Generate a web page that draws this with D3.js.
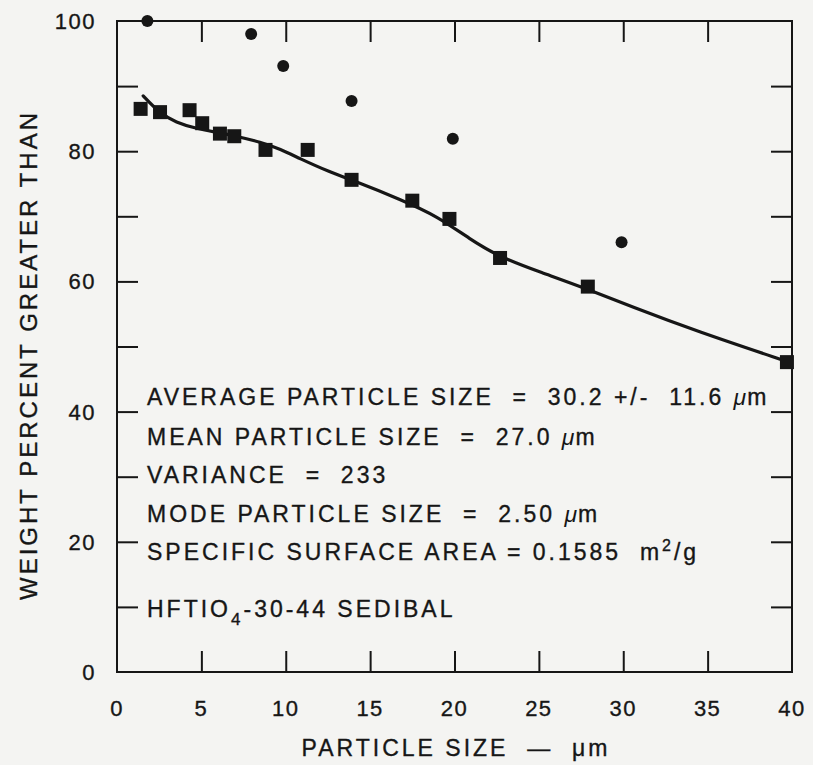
<!DOCTYPE html>
<html>
<head>
<meta charset="utf-8">
<script src="https://cdn.jsdelivr.net/npm/d3@7"></script>
<style>
  html, body { margin: 0; padding: 0; background: #f4f4f2; }
  svg { display: block; }
  text { font-family: "Liberation Sans", Arial, Helvetica, sans-serif; fill: #161616; stroke: #161616; stroke-width: 0.35px; }
</style>
</head>
<body>
<svg id="chart" width="813" height="765"></svg>
<script>
// ---- data ----
const squareX = [1.4, 2.55, 4.3, 5.05, 6.1, 6.95, 8.8, 11.3, 13.9, 17.5, 19.7, 22.7, 27.9, 39.7];
const squareY = [86.5, 86.0, 86.3, 84.3, 82.7, 82.3, 80.2, 80.2, 75.6, 72.4, 69.6, 63.6, 59.2, 47.6];
const circleX = [1.8, 7.95, 9.85, 13.9, 19.9, 29.9];
const circleY = [100.0, 98.0, 93.1, 87.7, 81.9, 66.0];
const curveX = [1.55, 2.5, 3.5, 4.7, 5.7, 7.1, 8.5, 9.7, 10.8, 12.6, 13.9, 16.8, 19.0, 20.9, 22.7, 25.1, 27.9, 30.4, 34.4, 39.7];
const curveY = [88.5, 85.9, 84.4, 83.5, 83.0, 82.3, 81.4, 80.3, 78.9, 76.8, 75.6, 72.6, 70.0, 66.5, 63.7, 61.4, 58.8, 56.2, 52.3, 47.7];
const xTickLabels = [0, 5, 10, 15, 20, 25, 30, 35, 40];
const yTickLabels = [0, 20, 40, 60, 80, 100];
const xInnerTicks = [5, 10, 15, 20, 25, 30, 35];
const yInnerTicks = [10, 20, 30, 40, 50, 60, 70, 80, 90];
const xTitle = "PARTICLE SIZE  —  μm";
const yTitle = "WEIGHT PERCENT GREATER THAN";
const statLines = [
  [{t: "AVERAGE PARTICLE SIZE  =  30.2 +/-  11.6 "}, {t: "μ", it: true}, {t: "m"}],
  [{t: "MEAN PARTICLE SIZE  =  27.0 "}, {t: "μ", it: true}, {t: "m"}],
  [{t: "VARIANCE  =  233"}],
  [{t: "MODE PARTICLE SIZE  =  2.50 "}, {t: "μ", it: true}, {t: "m"}],
  [{t: "SPECIFIC SURFACE AREA = 0.1585  m"}, {t: "2", sup: true}, {t: "/g", after: true}],
  [{t: "HFTIO"}, {t: "4", sub: true}, {t: "-30-44 SEDIBAL", after: true}]
];
const statBaselines = [405, 445, 483, 522, 560, 617];

// ---- scales ----
const svg = d3.select("#chart");
const x = d3.scaleLinear().domain([0, 40]).range([117, 792]);
const y = d3.scaleLinear().domain([0, 100]).range([672, 21]);
const ink = "#161616";
const tickLen = 21;

// frame
svg.append("rect")
  .attr("x", x(0)).attr("y", y(100))
  .attr("width", x(40) - x(0)).attr("height", y(0) - y(100))
  .attr("fill", "none").attr("stroke", ink).attr("stroke-width", 2);

// axes via d3 axis generators (ticks inward)
const axBottom = d3.axisTop(x).tickValues(xInnerTicks).tickSize(tickLen).tickFormat("");
const axTop = d3.axisBottom(x).tickValues(xInnerTicks).tickSize(tickLen).tickFormat("");
const axLeft = d3.axisRight(y).tickValues(yInnerTicks).tickSize(tickLen).tickFormat("");
const axRight = d3.axisLeft(y).tickValues(yInnerTicks).tickSize(tickLen).tickFormat("");
function styleAxis(g) {
  g.select(".domain").remove();
  g.selectAll("line").attr("stroke", ink).attr("stroke-width", 2);
}
svg.append("g").attr("transform", `translate(0,${y(0)})`).call(axBottom).call(styleAxis);
svg.append("g").attr("transform", `translate(0,${y(100)})`).call(axTop).call(styleAxis);
svg.append("g").attr("transform", `translate(${x(0)},0)`).call(axLeft).call(styleAxis);
svg.append("g").attr("transform", `translate(${x(40)},0)`).call(axRight).call(styleAxis);

// tick labels
svg.append("g").selectAll("text").data(xTickLabels).join("text")
  .attr("x", d => x(d)).attr("y", 716)
  .attr("text-anchor", "middle")
  .style("font-size", "22px").style("letter-spacing", "1.5px")
  .text(d => d);
svg.append("g").selectAll("text").data(yTickLabels).join("text")
  .attr("x", 96).attr("y", d => y(d) + 8)
  .attr("text-anchor", "end")
  .style("font-size", "22px").style("letter-spacing", "1.5px")
  .text(d => d);

// axis titles
svg.append("text")
  .attr("x", 456).attr("y", 756)
  .attr("text-anchor", "middle")
  .attr("xml:space", "preserve")
  .style("font-size", "23px").style("letter-spacing", "3px")
  .text(xTitle);
svg.append("text")
  .attr("transform", `translate(37,${355}) rotate(-90)`)
  .attr("text-anchor", "middle")
  .style("font-size", "24px").style("letter-spacing", "3px")
  .text(yTitle);

// curve
const curveData = curveX.map((d, i) => [d, curveY[i]]);
svg.append("path")
  .datum(curveData)
  .attr("fill", "none").attr("stroke", ink).attr("stroke-width", 3.2)
  .attr("stroke-linejoin", "round").attr("stroke-linecap", "round")
  .attr("d", d3.line().x(d => x(d[0])).y(d => y(d[1])).curve(d3.curveBasis));

// squares
const sq = 14;
svg.append("g").selectAll("rect").data(squareX.map((d, i) => [d, squareY[i]])).join("rect")
  .attr("x", d => x(d[0]) - sq / 2).attr("y", d => y(d[1]) - sq / 2)
  .attr("width", sq).attr("height", sq).attr("fill", ink);

// circles
svg.append("g").selectAll("circle").data(circleX.map((d, i) => [d, circleY[i]])).join("circle")
  .attr("cx", d => x(d[0])).attr("cy", d => y(d[1])).attr("r", 6).attr("fill", ink);

// stats text
const stats = svg.append("g");
statLines.forEach((line, i) => {
  const t = stats.append("text")
    .attr("x", 147).attr("y", statBaselines[i])
    .attr("xml:space", "preserve")
    .style("font-size", "23px").style("letter-spacing", "3px");
  line.forEach(seg => {
    const ts = t.append("tspan").text(seg.t);
    if (seg.it) ts.style("font-style", "italic").style("letter-spacing", "1px").style("stroke-width", "0");
    if (seg.sup) ts.attr("dy", -9).style("font-size", "16px");
    if (seg.sub) ts.attr("dy", 8).style("font-size", "17px");
    if (seg.after) ts.attr("dy", line.some(s => s.sup) ? 9 : -8);
  });
});
</script>
</body>
</html>
